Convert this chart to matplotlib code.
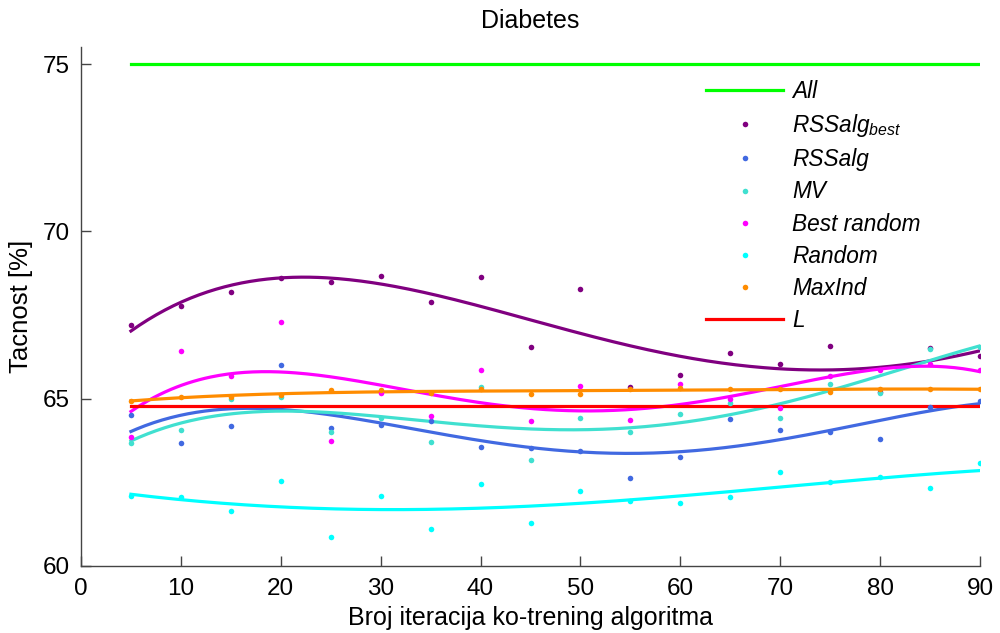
import matplotlib
matplotlib.use('Agg')
import matplotlib.pyplot as plt
from matplotlib.lines import Line2D
import numpy as np

plt.rcParams['font.family'] = ['Liberation Sans', 'DejaVu Sans']
plt.rcParams['mathtext.fontset'] = 'custom'
plt.rcParams['mathtext.it'] = 'Liberation Sans:italic'
plt.rcParams['mathtext.rm'] = 'Liberation Sans'

# iterations of the co-training algorithm
iters = [5, 10, 15, 20, 25, 30, 35, 40, 45, 50, 55, 60, 65, 70, 75, 80, 85, 90]

acc_all = 75.0
acc_l = 64.79

rssalg_best = [67.20, 67.76, 68.18, 68.61, 68.50, 68.67, 67.89, 68.64, 66.53,
               68.27, 65.36, 65.71, 66.36, 66.03, 66.56, 65.21, 66.50, 66.29]
rssalg = [64.51, 63.66, 64.19, 66.00, 64.12, 64.22, 64.33, 63.56, 63.52,
          63.45, 62.62, 63.27, 64.40, 64.05, 64.01, 63.79, 64.75, 64.93]
mv = [63.67, 64.05, 65.00, 65.06, 63.99, 64.42, 63.70, 65.36, 63.17,
      64.43, 64.00, 64.53, 64.86, 64.43, 65.44, 65.18, 66.49, 66.55]
best_random = [63.86, 66.43, 65.68, 67.30, 63.73, 65.16, 64.49, 65.86, 64.34,
               65.38, 64.37, 65.45, 64.98, 64.73, 65.68, 65.86, 66.05, 65.86]
random_sel = [62.08, 62.05, 61.65, 62.55, 60.86, 62.10, 61.11, 62.44, 61.27,
              62.23, 61.94, 61.87, 62.07, 62.80, 62.50, 62.65, 62.32, 63.08]
maxind = [64.93, 65.06, 65.05, 65.10, 65.25, 65.27, 65.16, 65.29, 65.15,
          65.15, 65.29, 65.33, 65.29, 65.29, 65.21, 65.29, 65.29, 65.29]

series = [
    (rssalg_best, '#800080', r'$RSSalg_{best}$'),
    (rssalg, '#4169E1', 'RSSalg'),
    (mv, '#40E0D0', 'MV'),
    (best_random, '#FF00FF', 'Best random'),
    (random_sel, '#00FFFF', 'Random'),
    (maxind, '#FF8C00', 'MaxInd'),
]

fig = plt.figure(figsize=(10, 6.33), dpi=100)
ax = fig.add_axes([0.081, 0.106, 0.899, 0.819])

x = np.array(iters, dtype=float)
xf = np.linspace(x[0], x[-1], 300)

ax.plot([x[0], x[-1]], [acc_all, acc_all], color='#00FF00', lw=2.3, zorder=2)

# dots + 4th degree polynomial trend for each method
for ys, col, _ in series:
    ax.scatter(x, ys, s=16, color=col, zorder=3, linewidths=0)
    coef = np.polyfit(x, ys, 4)
    ax.plot(xf, np.polyval(coef, xf), color=col, lw=2.3, zorder=2)

ax.plot([x[0], x[-1]], [acc_l, acc_l], color='#FF0000', lw=2.3, zorder=2)

ax.set_xlim(0, 90)
ax.set_ylim(60, 75.5)
ax.set_xticks(range(0, 91, 10))
ax.set_yticks([60, 65, 70, 75])
ax.tick_params(direction='in', length=7, width=1, labelsize=17.5, color='#444444')
ax.tick_params(axis='x', pad=9)
ax.tick_params(axis='y', pad=8)
for side in ('top', 'right'):
    ax.spines[side].set_visible(False)
for side in ('left', 'bottom'):
    ax.spines[side].set_color('#444444')
    ax.spines[side].set_linewidth(1.0)

ax.set_xlabel('Broj iteracija ko-trening algoritma', fontsize=18)
ax.xaxis.set_label_coords(0.5, -0.077)
ax.set_ylabel('Tacnost [%]', fontsize=18.5, labelpad=7)
ax.set_title('Diabetes', fontsize=18, pad=14)

handles = [Line2D([], [], color='#00FF00', lw=2.3)]
labels = ['All']
for ys, col, lab in series:
    handles.append(Line2D([], [], ls='none', marker='o', ms=4, color=col, markeredgewidth=0))
    labels.append(lab)
handles.append(Line2D([], [], color='#FF0000', lw=2.3))
labels.append('L')

ax.legend(handles, labels, loc='upper left', bbox_to_anchor=(0.673, 0.976),
          frameon=False, prop={'size': 16.3, 'style': 'italic'},
          handlelength=3.4, handletextpad=0.4, labelspacing=0.4)

fig.savefig('out.png', dpi=100)
